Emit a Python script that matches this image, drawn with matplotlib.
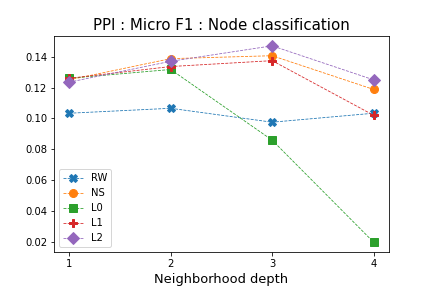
import matplotlib
matplotlib.use("Agg")
import matplotlib.pyplot as plt

depth = [1, 2, 3, 4]
rw = [0.1034, 0.1066, 0.0976, 0.1034]
ns = [0.1250, 0.1387, 0.1406, 0.1188]
l0 = [0.1260, 0.1317, 0.0860, 0.0200]
l1 = [0.1260, 0.1336, 0.1374, 0.1021]
l2 = [0.1235, 0.1370, 0.1470, 0.1250]

series = [("RW", rw, "X"), ("NS", ns, "o"), ("L0", l0, "s"),
          ("L1", l1, "P"), ("L2", l2, "D")]

fig, ax = plt.subplots(figsize=(6, 4), dpi=72)
fig.subplots_adjust(bottom=0.125, top=0.875)
for label, values, marker in series:
    ax.plot(depth, values, linestyle="--", linewidth=0.8, marker=marker,
            markersize=8, label=label)
ax.set_xticks(depth)
ax.set_title("PPI : Micro F1 : Node classification", fontsize=15)
ax.set_xlabel("Neighborhood depth", fontsize=13)
ax.legend(loc="lower left")
fig.savefig("out.png")
